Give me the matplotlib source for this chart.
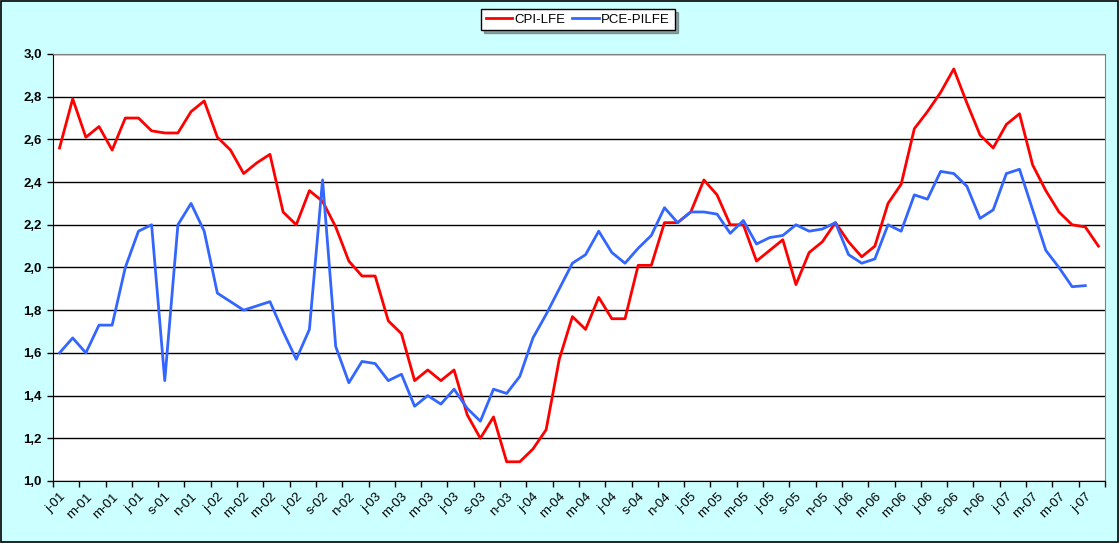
import matplotlib.pyplot as plt
from matplotlib.patches import Rectangle
import numpy as np

plt.rcParams['font.family'] = ['Liberation Sans', 'DejaVu Sans']

# monthly data, Jan 2001 .. Aug 2007
cpi_lfe = [2.56, 2.79, 2.61, 2.66, 2.55, 2.70, 2.70, 2.64, 2.63, 2.63, 2.73, 2.78,
           2.61, 2.55, 2.44, 2.49, 2.53, 2.26, 2.20, 2.36, 2.31, 2.19, 2.03, 1.96,
           1.96, 1.75, 1.69, 1.47, 1.52, 1.47, 1.52, 1.31, 1.20, 1.30, 1.09, 1.09,
           1.15, 1.24, 1.57, 1.77, 1.71, 1.86, 1.76, 1.76, 2.01, 2.01, 2.21, 2.21,
           2.26, 2.41, 2.34, 2.20, 2.20, 2.03, 2.08, 2.13, 1.92, 2.07, 2.12, 2.21,
           2.12, 2.05, 2.10, 2.30, 2.39, 2.65, 2.73, 2.82, 2.93, 2.77, 2.62, 2.56,
           2.67, 2.72, 2.48, 2.36, 2.26, 2.20, 2.19, 2.10]
pce_pilfe = [1.60, 1.67, 1.60, 1.73, 1.73, 2.00, 2.17, 2.20, 1.47, 2.20, 2.30, 2.17,
             1.88, 1.84, 1.80, 1.82, 1.84, 1.70, 1.57, 1.71, 2.41, 1.63, 1.46, 1.56,
             1.55, 1.47, 1.50, 1.35, 1.40, 1.36, 1.43, 1.34, 1.28, 1.43, 1.41, 1.49,
             1.67, 1.78, 1.90, 2.02, 2.06, 2.17, 2.07, 2.02, 2.09, 2.15, 2.28, 2.21,
             2.26, 2.26, 2.25, 2.16, 2.22, 2.11, 2.14, 2.15, 2.20, 2.17, 2.18, 2.21,
             2.06, 2.02, 2.04, 2.20, 2.17, 2.34, 2.32, 2.45, 2.44, 2.38, 2.23, 2.27,
             2.44, 2.46, 2.27, 2.08, 2.00, 1.91, 1.915]

month_letters = ['j', 'f', 'm', 'a', 'm', 'j', 'j', 'a', 's', 'o', 'n', 'd']
labels = [f"{month_letters[i % 12]}-{1 + i // 12:02d}" for i in range(len(cpi_lfe))]

fig = plt.figure(figsize=(11.2, 5.43), dpi=100, facecolor='#CCFFFF')
fig.patches.append(Rectangle((0.0005, 0.001), 0.998, 0.997, transform=fig.transFigure,
                             fill=False, edgecolor='black', linewidth=1.2))
ax = fig.add_axes([0.0473, 0.1142, 0.9393, 0.7864])
ax.set_facecolor('white')

x = np.arange(len(cpi_lfe))
ax.plot(x, cpi_lfe, color='#FF0000', linewidth=2.0, label='CPI-LFE', zorder=3)
ax.plot(np.arange(len(pce_pilfe)), pce_pilfe, color='#3366FF', linewidth=2.0,
        label='PCE-PILFE', zorder=3)

ax.set_xlim(-0.5, len(cpi_lfe) - 0.5)
ax.set_ylim(1.0, 3.0)
yt = np.arange(1.0, 3.01, 0.2)
ax.set_yticks(yt)
ax.set_yticklabels([f"{v:.1f}".replace('.', ',') for v in yt], fontsize=9.5, fontweight='bold')
ax.grid(axis='y', color='black', linewidth=1.0)
ax.set_axisbelow(True)
ax.tick_params(axis='y', direction='out', length=4, width=1, pad=4)

ax.set_xticks(x[::2])
ax.set_xticklabels(labels[::2], rotation=45, ha='right', va='top', fontsize=9.5,
                   rotation_mode='anchor')
ax.set_xticks(np.arange(-0.5, len(cpi_lfe), 2), minor=True)
ax.tick_params(axis='x', which='major', length=0, pad=7)
ax.tick_params(axis='x', which='minor', direction='out', length=4, width=1)

for side in ['top', 'right']:
    ax.spines[side].set_color('#808080')
for side in ['left', 'bottom']:
    ax.spines[side].set_color('black')

leg = fig.legend(loc='center', bbox_to_anchor=(0.516, 0.964), ncol=2, frameon=True,
                 fancybox=False, shadow=True, edgecolor='black', fontsize=9.5,
                 handlelength=2.0, handletextpad=0.2, columnspacing=0.5,
                 borderpad=0.35, borderaxespad=0.2)
leg.get_frame().set_linewidth(1.0)

plt.savefig('out.png', dpi=100, facecolor=fig.get_facecolor())
